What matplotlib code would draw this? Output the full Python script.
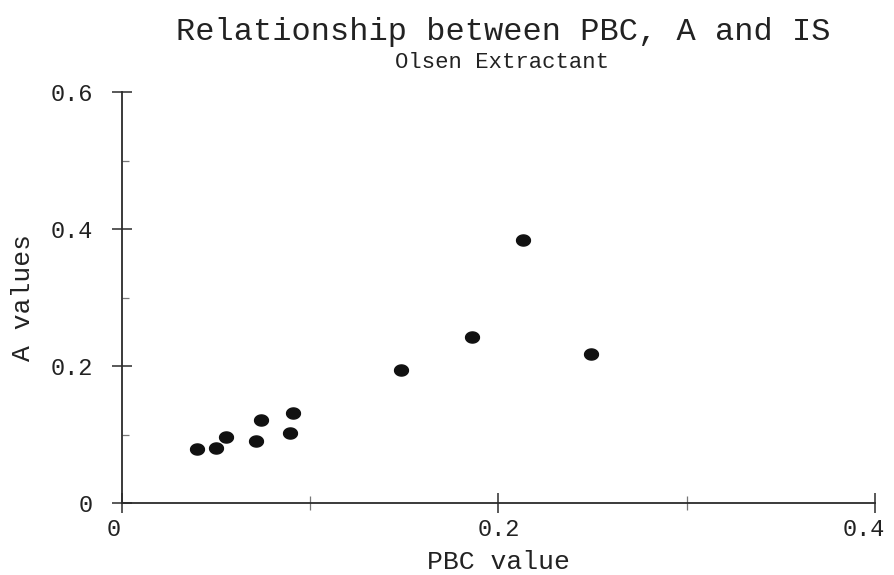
import numpy as np
import matplotlib.pyplot as plt
from matplotlib.ticker import FixedLocator
from matplotlib.transforms import ScaledTranslation

# PBC value vs A value, Olsen extractant
pbc = [0.040, 0.050, 0.055, 0.071, 0.074, 0.089, 0.091, 0.148, 0.186, 0.213, 0.249]
a_vals = [0.079, 0.080, 0.097, 0.091, 0.121, 0.102, 0.131, 0.195, 0.243, 0.384, 0.218]

x_major = [0, 0.2, 0.4]
x_major_labels = ["0", "0.2", "0.4"]
x_minor = [0.1, 0.3]
y_major = [0, 0.2, 0.4, 0.6]
y_major_labels = ["0", "0.2", "0.4", "0.6"]
y_minor = [0.1, 0.3, 0.5]

plt.rcParams['font.family'] = ['Liberation Mono', 'DejaVu Sans Mono']
ink = '#2b2b2b'

fig = plt.figure(figsize=(8.94, 5.75), dpi=100)
ax = fig.add_axes([0.1365, 0.125, 0.842, 0.715])

# slightly flattened dot, like the plotter's
t = np.linspace(0, 2 * np.pi, 40)
dot = np.column_stack([1.25 * np.cos(t), np.sin(t)])
ax.plot(pbc, a_vals, linestyle='none', marker=dot, markersize=10,
        color='#111111')

ax.set_xlim(0, 0.4)
ax.set_ylim(0, 0.6)

for side in ['top', 'right']:
    ax.spines[side].set_visible(False)
for side in ['left', 'bottom']:
    ax.spines[side].set_color(ink)
    ax.spines[side].set_linewidth(1.3)

ax.xaxis.set_major_locator(FixedLocator(x_major))
ax.xaxis.set_minor_locator(FixedLocator(x_minor))
ax.set_xticklabels(x_major_labels)
ax.yaxis.set_major_locator(FixedLocator(y_major))
ax.yaxis.set_minor_locator(FixedLocator(y_minor))
ax.set_yticklabels(y_major_labels)

ax.tick_params(axis='x', which='major', direction='inout', length=14,
               width=1.1, color=ink, labelsize=17, pad=4, labelcolor='#222222')
ax.tick_params(axis='x', which='minor', direction='inout', length=10,
               width=0.9, color='#777777')
ax.tick_params(axis='y', which='major', direction='inout', length=14,
               width=1.1, color=ink, labelsize=17, pad=14, labelcolor='#222222')
ax.tick_params(axis='y', which='minor', direction='in', length=5,
               width=0.9, color='#777777')

# end labels sit a little inward of their ticks
xlabels = ax.get_xticklabels()
xlabels[0].set_transform(xlabels[0].get_transform()
                         + ScaledTranslation(-8 / 100, 0, fig.dpi_scale_trans))
xlabels[-1].set_transform(xlabels[-1].get_transform()
                          + ScaledTranslation(-11 / 100, 0, fig.dpi_scale_trans))

ax.set_xlabel("PBC value", fontsize=19, color='#222222', labelpad=6)
ax.set_ylabel("A values", fontsize=19, color='#222222', labelpad=11)

fig.text(0.563, 0.944, "Relationship between PBC, A and IS", fontsize=23,
         ha='center', va='center', color='#222222')
fig.text(0.562, 0.892, "Olsen Extractant", fontsize=16,
         ha='center', va='center', color='#222222')

fig.savefig("out.png", dpi=100, facecolor='white')
